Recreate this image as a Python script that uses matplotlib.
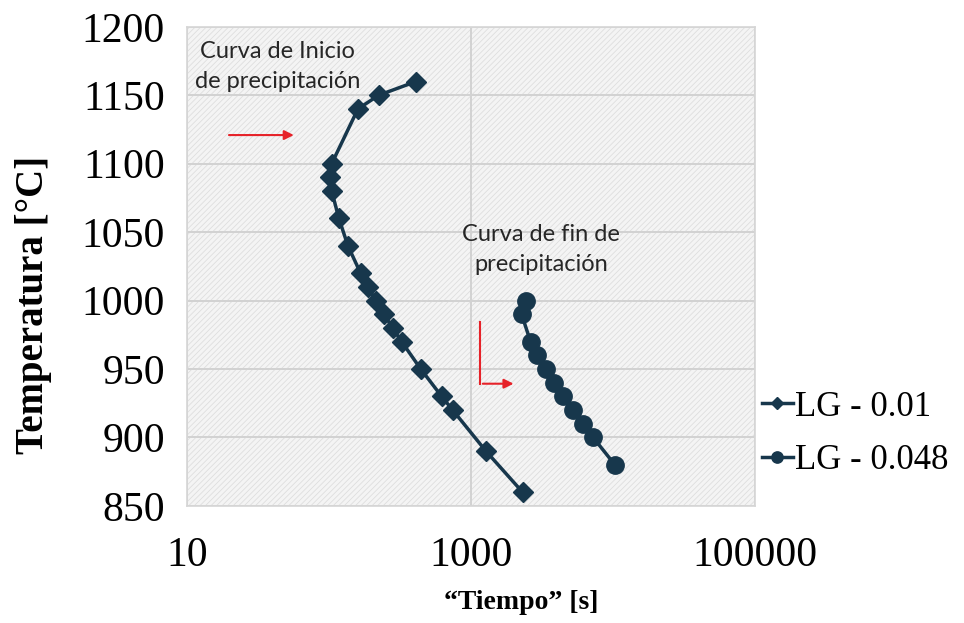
import matplotlib
matplotlib.use("Agg")
import matplotlib.pyplot as plt
from matplotlib.patches import Rectangle

# Curva de inicio de precipitación (LG - 0.01)
tiempo_inicio = [410, 224, 160, 104.5, 101.6, 104.5, 117.5, 136, 167, 188, 214,
                 244, 281, 325, 443, 622, 744, 1276, 2312]
temp_inicio = [1160, 1150, 1140, 1100, 1090, 1080, 1060, 1040, 1020, 1010, 1000,
               990, 980, 970, 950, 930, 920, 890, 860]

# Curva de fin de precipitación (LG - 0.048)
tiempo_fin = [2438, 2275, 2630, 2930, 3375, 3845, 4470, 5250, 6180, 7260, 10330]
temp_fin = [1000, 990, 970, 960, 950, 940, 930, 920, 910, 900, 880]

series_labels = ["LG - 0.01", "LG - 0.048"]
x_ticks = [10, 1000, 100000]
y_ticks = [850, 900, 950, 1000, 1050, 1100, 1150, 1200]

line_color = "#17374c"
arrow_color = "#e62229"
serif = ["Liberation Serif", "DejaVu Serif"]

plt.rcParams["hatch.linewidth"] = 0.6
plt.rcParams["hatch.color"] = "#dcdcdc"

fig = plt.figure(figsize=(9.64, 6.23), dpi=100)
ax = fig.add_axes([0.194, 0.188, 0.589, 0.769])

# fondo rayado
ax.set_facecolor("#f4f4f4")
ax.add_patch(Rectangle((0, 0), 1, 1, transform=ax.transAxes, facecolor="none",
                       edgecolor="#dedede", hatch="//////", linewidth=0, zorder=0))

ax.plot(tiempo_inicio, temp_inicio, color=line_color, marker="D", markersize=10,
        linewidth=2.5, label=series_labels[0], zorder=3)
ax.plot(tiempo_fin, temp_fin, color=line_color, marker="o", markersize=12.5,
        linewidth=2.5, label=series_labels[1], zorder=3)

ax.set_xscale("log")
ax.set_xlim(10, 100000)
ax.set_ylim(850, 1200)
ax.set_xticks(x_ticks)
ax.set_xticklabels([str(t) for t in x_ticks])
ax.xaxis.set_minor_locator(matplotlib.ticker.NullLocator())
ax.set_yticks(y_ticks)
ax.tick_params(axis="y", length=0, labelsize=30, pad=16)
ax.tick_params(axis="x", length=0, labelsize=30, pad=22)
for lbl in ax.get_xticklabels() + ax.get_yticklabels():
    lbl.set_family(serif)

ax.grid(True, color="#d2d2d2", linewidth=1.4, zorder=1)
ax.set_axisbelow(True)
for sp in ax.spines.values():
    sp.set_color("#d6d6d6")
    sp.set_linewidth(1.2)

ax.set_xlabel("\u201cTiempo\u201d [s]", fontsize=20, fontweight="bold", family=serif)
ax.xaxis.set_label_coords(0.588, -0.175)
ax.set_ylabel("Temperatura [°C]", fontsize=28, fontweight="bold", family=serif)
ax.yaxis.set_label_coords(-0.238, 0.42)

# textos de las curvas
ann_font = dict(fontsize=17, family=["Lato", "DejaVu Sans"], color="#262626",
                ha="center", va="center", linespacing=1.5)
ax.text(0.159, 0.9175, "Curva de Inicio\nde precipitación", transform=ax.transAxes, **ann_font)
ax.text(0.623, 0.5355, "Curva de fin de\nprecipitación", transform=ax.transAxes, **ann_font)

# flechas rojas
ax.annotate("", xy=(0.193, 0.774), xytext=(0.069, 0.774), xycoords="axes fraction",
            arrowprops=dict(arrowstyle="-|>", color=arrow_color, lw=1.5, mutation_scale=14))
ax.plot([0.516, 0.516], [0.384, 0.255], color=arrow_color, lw=1.5,
        transform=ax.transAxes, zorder=4)
ax.annotate("", xy=(0.580, 0.255), xytext=(0.516, 0.255), xycoords="axes fraction",
            arrowprops=dict(arrowstyle="-|>", color=arrow_color, lw=1.5, mutation_scale=14))

leg = ax.legend(loc="center left", bbox_to_anchor=(1.0, 0.15), frameon=False,
                borderaxespad=0.1, borderpad=0.1,
                handlelength=0.9, handletextpad=0.05, labelspacing=0.6,
                prop={"family": serif, "size": 25}, markerscale=0.65)

fig.savefig("out.png", dpi=100)
